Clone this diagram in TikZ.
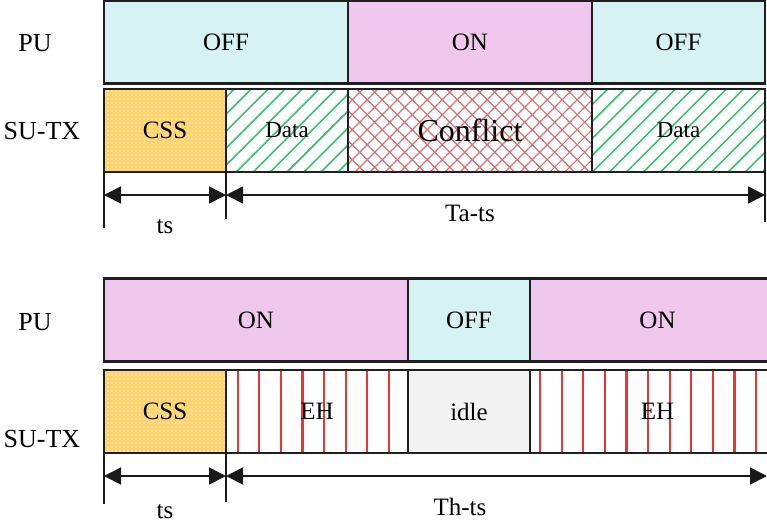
\documentclass[tikz,border=0pt]{standalone}
\usepackage{fontspec}
\setmainfont{Liberation Serif}
\usetikzlibrary{positioning}
\usetikzlibrary{patterns.meta,arrows.meta}
\definecolor{offcol}{RGB}{214,242,242}
\definecolor{oncol}{RGB}{240,200,238}
\definecolor{csscol}{RGB}{253,212,112}
\definecolor{dotcol}{RGB}{255,238,180}
\definecolor{datacol}{RGB}{55,195,110}
\definecolor{confcol}{RGB}{215,115,115}
\definecolor{ehcol}{RGB}{232,55,45}
\definecolor{idlecol}{RGB}{243,243,243}
\tikzset{node distance=0pt, font=\fontsize{12.5}{14}\selectfont}
\tikzstyle{slot} = [draw=black!88, line width=1.3pt, rectangle, minimum height=41.5pt, inner sep=0pt, outer sep=0pt, text centered]
\tikzstyle{offslot} = [slot, fill=offcol]
\tikzstyle{onslot} = [slot, fill=oncol]
\tikzstyle{cssslot} = [slot, minimum width=61pt, preaction={fill=csscol}, pattern={Dots[distance=2pt, radius=0.4pt]}, pattern color=dotcol]
\tikzstyle{dataslot} = [slot, preaction={fill=white}, pattern={Lines[angle=45, distance=6pt, line width=0.8pt]}, pattern color=datacol, font=\fontsize{11.5}{13}\selectfont]
\tikzstyle{conflictslot} = [slot, preaction={fill=white}, pattern={Hatch[angle=45, distance=5.3pt, line width=0.6pt]}, pattern color=confcol, font=\fontsize{16}{18}\selectfont]
\tikzstyle{ehslot} = [slot, preaction={fill=white}, pattern={Lines[angle=90, distance=10.8pt, line width=1.1pt]}, pattern color=ehcol]
\tikzstyle{idleslot} = [slot, fill=idlecol]
\tikzstyle{rowlabel} = [font=\fontsize{13}{15}\selectfont]
\tikzstyle{tick} = [draw=black!90, line width=0.8pt]
\tikzstyle{dim} = [draw=black!90, line width=0.8pt, {Triangle[length=8.5pt,width=8.5pt]}-{Triangle[length=8.5pt,width=8.5pt]}]

\begin{document}
\begin{tikzpicture}[x=0.5pt, y=-0.5pt]
    \clip (0,0) rectangle (767,527);

    % upper chart
    \node [rowlabel] (pulbla) at (35,43) {PU};
    \node [rowlabel] (sulbla) at (42,131) {SU-TX};
    \node [offslot, minimum width=122pt] (puaoff) at (226,42) {OFF};
    \node [onslot, minimum width=122pt, right=of puaoff] (puaon) {ON};
    \node [offslot, minimum width=86.5pt, right=of puaon] (puaoff2) {OFF};
    \node [cssslot] (cssa) at (165,130.5) {CSS};
    \node [dataslot, minimum width=61pt, right=of cssa] (dataa) {Data};
    \node [conflictslot, minimum width=122pt, right=of dataa] (conflicta) {Conflict};
    \node [dataslot, minimum width=86.5pt, right=of conflicta] (dataa2) {Data};

    \coordinate (tka) at (104,228);
    \coordinate (tkb) at (226,219);
    \coordinate (tkc) at (765,222);
    \coordinate (arra) at (0,195);
    \draw [tick] (cssa.south west) -- (tka);
    \draw [tick] (cssa.south east) -- (tkb);
    \draw [tick] (dataa2.south east) -- (tkc);
    \draw [dim] (cssa.south west |- arra) -- (cssa.south east |- arra);
    \draw [dim] (dataa.south west |- arra) -- (dataa2.south east |- arra);
    \node (tsa) at (165,227) {ts};
    \node (taa) at (470,213) {Ta-ts};

    % lower chart
    \node [rowlabel] (pulblb) at (35,322) {PU};
    \node [rowlabel] (sulblb) at (42,439) {SU-TX};
    \node [onslot, minimum width=152pt] (pubon) at (256,320) {ON};
    \node [offslot, minimum width=61pt, right=of pubon] (puboff) {OFF};
    \node [onslot, minimum width=127.5pt, right=of puboff] (pubon2) {ON};
    \node [cssslot] (cssb) at (165,411.5) {CSS};
    \node [ehslot, minimum width=91pt, right=of cssb] (ehb) {EH};
    \node [idleslot, minimum width=61pt, right=of ehb] (idleb) {idle};
    \node [ehslot, minimum width=127.5pt, right=of idleb] (ehb2) {EH};

    \coordinate (tkd) at (104,504);
    \coordinate (tke) at (226,502);
    \coordinate (arrb) at (0,476);
    \coordinate (arrbend) at (767,476);
    \draw [tick] (cssb.south west) -- (tkd);
    \draw [tick] (cssb.south east) -- (tke);
    \draw [dim] (cssb.south west |- arrb) -- (cssb.south east |- arrb);
    \draw [dim] (ehb.south west |- arrb) -- (arrbend);
    \node (tsb) at (165,512) {ts};
    \node (thb) at (460,507) {Th-ts};
\end{tikzpicture}
\end{document}
